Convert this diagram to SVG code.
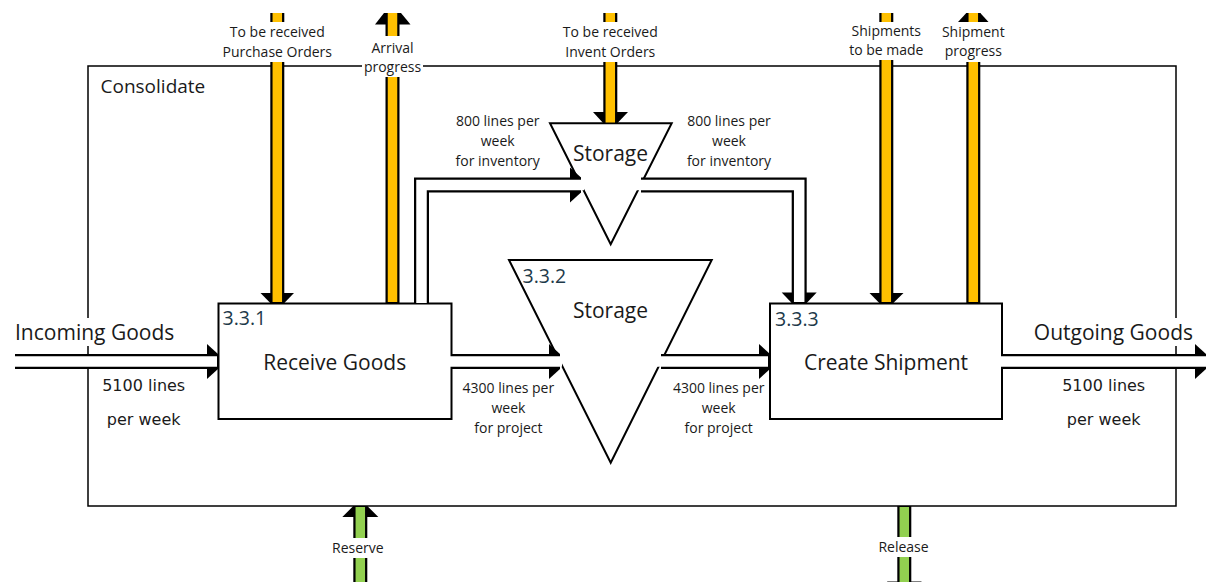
<svg xmlns="http://www.w3.org/2000/svg" width="1206" height="582" viewBox="0 0 1206 582">
  <style>
    .frame{fill:none;stroke:#000;stroke-width:1.5}
    .box{fill:#fff;stroke:#000;stroke-width:2}
    .t{font-family:"Open Sans","Noto Sans",sans-serif;fill:#1a1a1a}
    .lbl{font-size:14px;text-anchor:middle}
    .big{font-size:21px}
    .mid{text-anchor:middle}
    .num{font-family:"Open Sans","Noto Sans",sans-serif;font-size:19.5px;fill:#1e3a4a}
    .rate{font-family:"DejaVu Sans",sans-serif;font-size:16px;fill:#1a1a1a;text-anchor:middle}
    .edge{fill:none;stroke:#000;stroke-width:15;stroke-linejoin:miter}
    .edgeN{fill:none;stroke:#000;stroke-width:14}
    .inW{fill:none;stroke:#fff;stroke-width:10.5;stroke-linejoin:miter}
    .inY{fill:none;stroke:#ffc000;stroke-width:9.5}
    .inG{fill:none;stroke:#92d050;stroke-width:9.5}
    .head{fill:#000}
    .bg{fill:#fff}
  </style>

  <!-- enclosing activity -->
  <g id="consolidate">
    <rect class="frame" x="88" y="66" width="1088" height="440"/>
    <text class="t" x="100.5" y="93" font-size="19">Consolidate</text>
  </g>

  <!-- activities and storage points -->
  <g id="n331">
    <rect class="box" x="218.5" y="303.5" width="233" height="115.5"/>
    <text class="num" x="222.5" y="325">3.3.1</text>
    <text class="t big mid" x="334.7" y="369.5">Receive Goods</text>
  </g>
  <g id="storage-inventory">
    <polygon class="box" points="550,123.3 671.7,123.3 610.7,244.3"/>
    <text class="t big mid" x="610.5" y="161">Storage</text>
  </g>
  <g id="n332">
    <polygon class="box" points="509,260 711.7,260 610.7,462.7"/>
    <text class="num" x="522.5" y="282.5">3.3.2</text>
    <text class="t big mid" x="610.5" y="318">Storage</text>
  </g>
  <g id="n333">
    <rect class="box" x="770" y="303.5" width="232" height="115.5"/>
    <text class="num" x="775" y="325.5">3.3.3</text>
    <text class="t big mid" x="886" y="369.5">Create Shipment</text>
  </g>

  <!-- flows -->
  <g id="connectors">
    <!-- material flow -->
    <g id="c-incoming">
      <path class="edge" d="M15 361.5H218"/>
      <polygon class="head" points="207,344 218,354 218,369 207,379"/>
      <path class="inW" d="M15 361.5H217"/>
      <rect class="bg" x="13" y="318" width="164" height="28"/>
      <text class="t big" x="15" y="340">Incoming Goods</text>
      <text class="rate" x="143.7" y="391">5100 lines</text>
      <text class="rate" x="143.7" y="425">per week</text>
    </g>
    <g id="c-project-in">
      <path class="edge" d="M452 361.5H560"/>
      <polygon class="head" points="549,344 560,354 560,369 549,379"/>
      <path class="inW" d="M450 361.5H562"/>
      <text class="t lbl" x="508.4" y="392.7">4300 lines per</text>
      <text class="t lbl" x="508.4" y="412.7">week</text>
      <text class="t lbl" x="508.4" y="432.7">for project</text>
    </g>
    <g id="c-project-out">
      <path class="edge" d="M661 361.5H770"/>
      <polygon class="head" points="759,344 770,354 770,369 759,379"/>
      <path class="inW" d="M655 361.5H768"/>
      <text class="t lbl" x="718.7" y="392.7">4300 lines per</text>
      <text class="t lbl" x="718.7" y="412.7">week</text>
      <text class="t lbl" x="718.7" y="432.7">for project</text>
    </g>
    <g id="c-outgoing">
      <path class="edge" d="M1002 361.5H1206"/>
      <polygon class="head" points="1195,344 1206,354 1206,369 1195,379"/>
      <path class="inW" d="M1000 361.5H1206"/>
      <rect class="bg" x="1029" y="318" width="166" height="28"/>
      <text class="t big" x="1193" y="340" text-anchor="end">Outgoing Goods</text>
      <text class="rate" x="1103.7" y="391">5100 lines</text>
      <text class="rate" x="1103.7" y="425">per week</text>
    </g>
    <g id="c-inventory-in">
      <path class="edge" d="M421.5 303V185H581"/>
      <polygon class="head" points="570,167.5 581,177.5 581,192.5 570,202.5"/>
      <path class="inW" d="M421.5 303V185H584"/>
      <text class="t lbl" x="497.7" y="126">800 lines per</text>
      <text class="t lbl" x="497.7" y="146">week</text>
      <text class="t lbl" x="497.7" y="166">for inventory</text>
    </g>
    <g id="c-inventory-out">
      <path class="edge" d="M641 185H799.2V303"/>
      <polygon class="head" points="781.7,292.5 816.7,292.5 806.7,303 791.7,303"/>
      <path class="inW" d="M636 185H799.2V302"/>
      <text class="t lbl" x="729" y="126">800 lines per</text>
      <text class="t lbl" x="729" y="146">week</text>
      <text class="t lbl" x="729" y="166">for inventory</text>
    </g>

    <!-- information flow -->
    <g id="c-purchase-orders">
      <path class="edgeN" d="M277.3 13V303"/>
      <polygon class="head" points="260.5,293 294,293 284.3,303 270.3,303"/>
      <path class="inY" d="M277.3 13V302"/>
      <rect class="bg" x="219" y="22" width="117" height="40"/>
      <text class="t lbl" x="277.3" y="37">To be received</text>
      <text class="t lbl" x="277.3" y="57">Purchase Orders</text>
    </g>
    <g id="c-arrival-progress">
      <path class="edgeN" d="M392.5 303V13"/>
      <polygon class="head" points="375,24.5 410.5,24.5 401,13 384,13"/>
      <path class="inY" d="M392.5 302V13"/>
      <rect class="bg" x="362" y="36" width="61" height="41"/>
      <text class="t lbl" x="392.5" y="52.5">Arrival</text>
      <text class="t lbl" x="392.5" y="71.5">progress</text>
    </g>
    <g id="c-invent-orders">
      <path class="edgeN" d="M610.3 13V123.3"/>
      <polygon class="head" points="593,112 628,112 617.3,123.3 603.3,123.3"/>
      <path class="inY" d="M610.3 13V122.5"/>
      <rect class="bg" x="556" y="22" width="108" height="40"/>
      <text class="t lbl" x="610.3" y="37">To be received</text>
      <text class="t lbl" x="610.3" y="57">Invent Orders</text>
    </g>
    <g id="c-shipments">
      <path class="edgeN" d="M886.3 13V303"/>
      <polygon class="head" points="869.5,293 903.5,293 893.3,303 879.3,303"/>
      <path class="inY" d="M886.3 13V302"/>
      <rect class="bg" x="846" y="22" width="80" height="38"/>
      <text class="t lbl" x="886.3" y="35.5">Shipments</text>
      <text class="t lbl" x="886.3" y="54.5">to be made</text>
    </g>
    <g id="c-shipment-progress">
      <path class="edgeN" d="M973.3 303V13"/>
      <polygon class="head" points="958,22 988.5,22 980.3,13 966.3,13"/>
      <path class="inY" d="M973.3 302V13"/>
      <rect class="bg" x="940" y="22" width="67" height="40"/>
      <text class="t lbl" x="973.3" y="37">Shipment</text>
      <text class="t lbl" x="973.3" y="56">progress</text>
    </g>

    <!-- resource flow -->
    <g id="c-reserve">
      <path class="edgeN" d="M360.3 590V506"/>
      <polygon class="head" points="342.3,517 378.3,517 367.3,506 353.3,506"/>
      <path class="inG" d="M360.3 590V507"/>
      <rect class="bg" x="330" y="538" width="57" height="20"/>
      <text class="t lbl" x="357.8" y="552.5">Reserve</text>
    </g>
    <g id="c-release">
      <path class="edgeN" d="M904.3 506V582"/>
      <polygon class="head" points="887,581.5 921.7,581.5 911.3,593 897.3,593"/>
      <path class="inG" d="M904.3 507V593"/>
      <rect class="bg" x="876" y="537" width="56" height="20"/>
      <text class="t lbl" x="903.5" y="551.7">Release</text>
    </g>
  </g>
</svg>
